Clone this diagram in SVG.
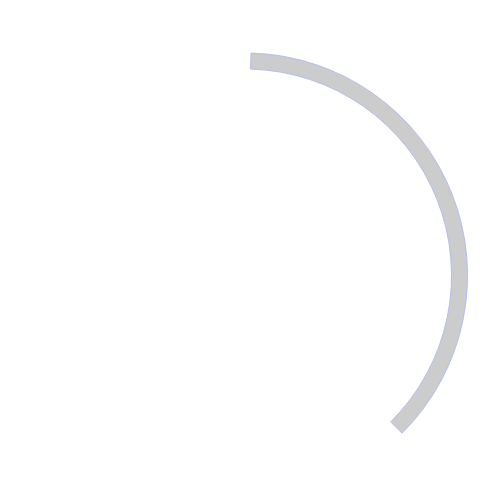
<svg xmlns="http://www.w3.org/2000/svg" width="500" height="500" viewBox="0 0 500 500">
<style>
.arc{fill:#cccccc;stroke:#b4bdf0;stroke-width:1}
</style>
<rect width="500" height="500" fill="#ffffff"/>
<g id="arc-segment">
<path class="arc" d="M251,53.1 A222.5,222.5 0 0 1 402,433.2 L390.7,421.9 A206.5,206.5 0 0 0 250.6,69.1 Z"/>
</g>
</svg>
